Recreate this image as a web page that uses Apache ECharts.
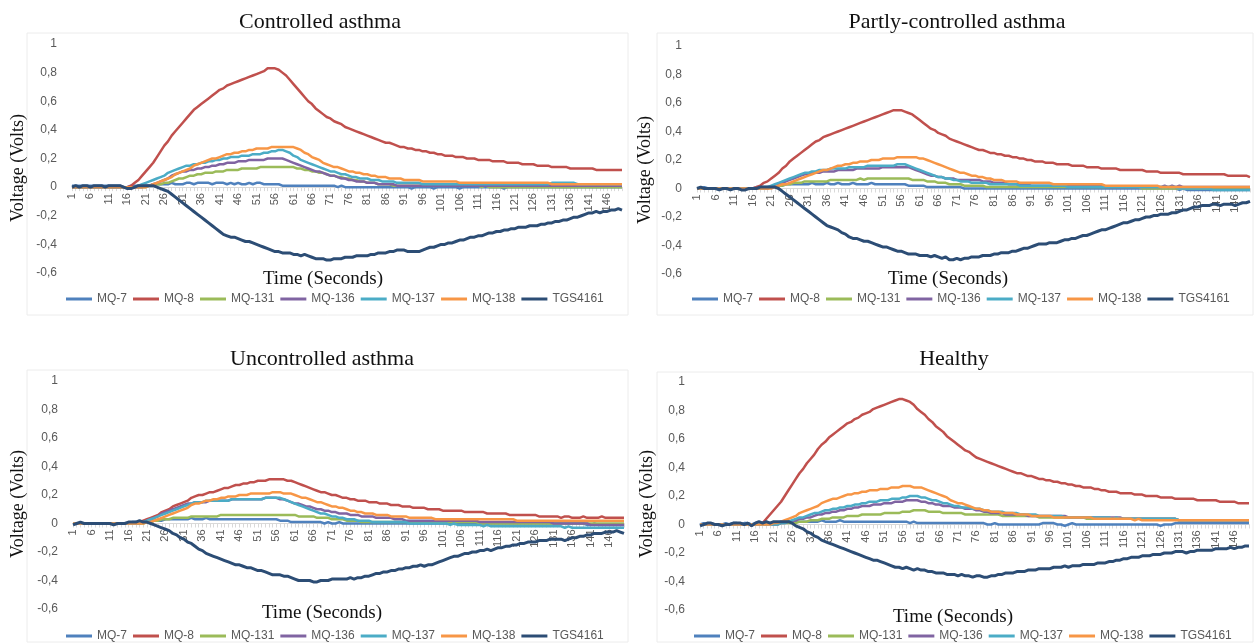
<!DOCTYPE html>
<html><head><meta charset="utf-8">
<script src="https://cdn.jsdelivr.net/npm/echarts@6/dist/echarts.min.js"></script>
<style>html,body{margin:0;padding:0;background:#fff}#chart{width:1255px;height:643px}</style>
</head><body><div id="chart"></div>
<script>
const seconds = [1,2,3,4,5,6,7,8,9,10,11,12,13,14,15,16,17,18,19,20,21,22,23,24,25,26,27,28,29,30,31,32,33,34,35,36,37,38,39,40,41,42,43,44,45,46,47,48,49,50,51,52,53,54,55,56,57,58,59,60,61,62,63,64,65,66,67,68,69,70,71,72,73,74,75,76,77,78,79,80,81,82,83,84,85,86,87,88,89,90,91,92,93,94,95,96,97,98,99,100,101,102,103,104,105,106,107,108,109,110,111,112,113,114,115,116,117,118,119,120,121,122,123,124,125,126,127,128,129,130,131,132,133,134,135,136,137,138,139,140,141,142,143,144,145,146,147,148,149,150];
const sensorNames = ['MQ-7','MQ-8','MQ-131','MQ-136','MQ-137','MQ-138','TGS4161'];
const panelTitles = ['Controlled asthma','Partly-controlled asthma','Uncontrolled asthma','Healthy'];

// ---- Controlled asthma ----
const controlledMQ7 = [0.01,0.01,0.01,0.01,0.01,0.01,0.01,0.01,0.01,0.01, 0.01,0.01,0.01,0.01,0,0,0.01,0.01,0.01,0.01, 0.01,0.01,0.02,0.02,0.02,0.02,0.02,0.03,0.02,0.02, 0.02,0.03,0.03,0.02,0.03,0.03,0.03,0.03,0.02,0.03, 0.03,0.03,0.02,0.03,0.02,0.03,0.02,0.02,0.03,0.02, 0.03,0.03,0.02,0.02,0.02,0.02,0.02,0.01,0.01,0.01, 0.01,0.01,0.01,0.01,0.01,0.01,0.01,0.01,0.01,0.01, 0.01,0.01,0,0.01,0,0,0,0,0,0, 0,0,0,0,0,0,0,0,0,0, 0,0,-0.01,0,0,0,0,0,-0.01,0, 0,0,0,0,0,-0.01,0,0,0,0, 0,0,0,0,0,0,0,-0.01,0,0, 0,0,0,0,0,0,0,0,0,0, 0,0,0,0,0,0,0,0,0,0, 0,0,0,0,0,0,0,0,0,0];
const controlledMQ8 = [0,0,0,0,0,0,0,0,0,0, 0,0,0,0,0,0,0.01,0.03,0.05,0.08, 0.11,0.14,0.17,0.21,0.25,0.29,0.32,0.36,0.39,0.42, 0.45,0.48,0.51,0.54,0.56,0.58,0.60,0.62,0.64,0.66, 0.68,0.69,0.71,0.72,0.73,0.74,0.75,0.76,0.77,0.78, 0.79,0.80,0.81,0.83,0.83,0.83,0.82,0.80,0.78,0.75, 0.72,0.69,0.66,0.63,0.60,0.58,0.55,0.53,0.51,0.49, 0.48,0.46,0.45,0.44,0.42,0.41,0.40,0.39,0.38,0.37, 0.36,0.35,0.34,0.33,0.32,0.31,0.31,0.30,0.29,0.28, 0.28,0.27,0.27,0.26,0.26,0.25,0.25,0.24,0.24,0.23, 0.23,0.22,0.22,0.22,0.21,0.21,0.21,0.20,0.20,0.20, 0.19,0.19,0.19,0.19,0.18,0.18,0.18,0.18,0.17,0.17, 0.17,0.17,0.16,0.16,0.16,0.16,0.15,0.15,0.15,0.15, 0.14,0.14,0.14,0.14,0.14,0.13,0.13,0.13,0.13,0.13, 0.13,0.13,0.12,0.12,0.12,0.12,0.12,0.12,0.12,0.12];
const controlledMQ131 = [0,0,0,0,0,0,0,0,0,0, 0,0,0,0,0,0,0,0,0,0, 0,0.01,0.01,0.02,0.02,0.03,0.03,0.04,0.05,0.06, 0.06,0.07,0.08,0.08,0.09,0.09,0.10,0.10,0.10,0.11, 0.11,0.11,0.12,0.12,0.12,0.12,0.13,0.13,0.13,0.13, 0.13,0.14,0.14,0.14,0.14,0.14,0.14,0.14,0.14,0.14, 0.14,0.13,0.13,0.12,0.12,0.11,0.11,0.10,0.10,0.09, 0.08,0.08,0.07,0.07,0.06,0.06,0.05,0.05,0.04,0.04, 0.03,0.03,0.03,0.02,0.02,0.02,0.02,0.01,0.01,0.01, 0.01,0.01,0.01,0.01,0.01,0.01,0.01,0.01,0.01,0.01, 0.01,0.01,0.01,0.01,0.01,0.01,0.01,0.01,0.01,0.01, 0.01,0,0.01,0,0,0,0,0,0,0, 0,0,0,0,0,0,0,0,0,0, 0,0,0,0,0,0,0,0,0,0, 0,0,0,0,0,0,0,0,0,0];
const controlledMQ136 = [0,0,0,0,0,0,0,0,0,0, 0,0,0,0,0,0,0,0,0,0, 0.01,0.01,0.02,0.03,0.04,0.05,0.06,0.08,0.09,0.10, 0.11,0.11,0.12,0.12,0.13,0.13,0.14,0.14,0.15,0.15, 0.16,0.16,0.17,0.17,0.17,0.18,0.18,0.18,0.19,0.19, 0.19,0.19,0.19,0.20,0.20,0.20,0.20,0.20,0.19,0.18, 0.17,0.16,0.15,0.14,0.13,0.12,0.11,0.11,0.10,0.09, 0.08,0.08,0.07,0.06,0.06,0.05,0.05,0.04,0.04,0.04, 0.03,0.03,0.03,0.02,0.02,0.02,0.02,0.02,0.01,0.01, 0.01,0.01,0.01,0.01,0.01,0.01,0.01,0.01,0.01,0.01, 0.01,0.01,0.01,0.01,0.01,0.01,0.01,0.01,0.01,0.01, 0.01,0.01,0.01,0.01,0.01,0.01,0.01,0.01,0.01,0.01, 0.01,0.01,0.01,0.01,0.01,0.01,0.01,0.01,0.01,0.01, 0.01,0.01,0.01,0.01,0.01,0.01,0.01,0.01,0.01,0.01, 0.01,0.01,0.01,0.01,0.01,0.01,0.01,0.01,0.01,0.01];
const controlledMQ137 = [0,0,0,0,0,0,0,0,0,0, 0,0,0,0,0,0,0,0,0.01,0.02, 0.03,0.04,0.05,0.06,0.07,0.08,0.10,0.11,0.12,0.13, 0.14,0.15,0.15,0.16,0.16,0.17,0.17,0.18,0.18,0.19, 0.19,0.20,0.20,0.21,0.21,0.21,0.22,0.22,0.22,0.23, 0.23,0.23,0.24,0.24,0.25,0.25,0.26,0.26,0.25,0.24, 0.22,0.21,0.19,0.18,0.17,0.16,0.15,0.14,0.13,0.12, 0.11,0.11,0.10,0.09,0.09,0.08,0.07,0.07,0.06,0.06, 0.06,0.05,0.05,0.05,0.04,0.04,0.04,0.04,0.03,0.03, 0.03,0.03,0.03,0.03,0.03,0.02,0.02,0.02,0.02,0.02, 0.02,0.02,0.02,0.02,0.02,0.02,0.02,0.02,0.02,0.02, 0.02,0.02,0.02,0.02,0.02,0.02,0.02,0.02,0.02,0.02, 0.02,0.02,0.02,0.02,0.02,0.02,0.02,0.02,0.02,0.02, 0.03,0.03,0.03,0.03,0.03,0.03,0.03,0.02,0.02,0.02, 0.02,0.02,0.02,0.02,0.02,0.02,0.02,0.02,0.02,0.02];
const controlledMQ138 = [0,0,0,0,0,0,0,0,0,0, 0,0,0,0,0,0,0,0,0,0, 0,0.01,0.02,0.03,0.04,0.05,0.06,0.07,0.09,0.10, 0.11,0.12,0.13,0.15,0.16,0.17,0.18,0.19,0.20,0.20, 0.21,0.22,0.23,0.23,0.24,0.24,0.25,0.25,0.26,0.26, 0.27,0.27,0.27,0.27,0.28,0.28,0.28,0.28,0.28,0.28, 0.28,0.27,0.26,0.24,0.23,0.21,0.20,0.19,0.17,0.16, 0.15,0.14,0.14,0.13,0.12,0.11,0.11,0.10,0.10,0.09, 0.09,0.08,0.08,0.07,0.07,0.07,0.06,0.06,0.06,0.06, 0.05,0.05,0.05,0.05,0.05,0.04,0.04,0.04,0.04,0.04, 0.04,0.04,0.04,0.04,0.04,0.03,0.03,0.03,0.03,0.03, 0.03,0.03,0.03,0.03,0.03,0.03,0.03,0.03,0.03,0.03, 0.03,0.03,0.03,0.03,0.03,0.03,0.03,0.03,0.03,0.03, 0.02,0.02,0.02,0.02,0.02,0.02,0.02,0.02,0.02,0.02, 0.02,0.02,0.02,0.02,0.02,0.02,0.02,0.02,0.02,0.02];
const controlledTGS4161 = [0,0.01,0,0.01,0.01,0,0.01,0.01,0.01,0, 0.01,0.01,0.01,0.01,0,-0.01,-0.01,0,0.01,0.01, 0.01,0.01,0.01,0,-0.01,-0.02,-0.03,-0.05,-0.07,-0.09, -0.11,-0.13,-0.15,-0.17,-0.19,-0.21,-0.23,-0.25,-0.27,-0.29, -0.31,-0.33,-0.34,-0.35,-0.35,-0.36,-0.37,-0.38,-0.38,-0.39, -0.40,-0.41,-0.42,-0.43,-0.44,-0.45,-0.45,-0.46,-0.46,-0.46, -0.47,-0.47,-0.48,-0.47,-0.48,-0.49,-0.50,-0.50,-0.50,-0.51, -0.51,-0.50,-0.50,-0.50,-0.49,-0.49,-0.49,-0.48,-0.48,-0.48, -0.48,-0.47,-0.47,-0.46,-0.46,-0.46,-0.45,-0.45,-0.44,-0.44, -0.44,-0.45,-0.45,-0.45,-0.45,-0.44,-0.43,-0.42,-0.42,-0.41, -0.40,-0.40,-0.39,-0.39,-0.38,-0.37,-0.37,-0.36,-0.35,-0.35, -0.34,-0.34,-0.33,-0.32,-0.32,-0.31,-0.31,-0.30,-0.30,-0.29, -0.29,-0.28,-0.28,-0.28,-0.27,-0.27,-0.27,-0.26,-0.26,-0.25, -0.25,-0.24,-0.24,-0.23,-0.23,-0.22,-0.21,-0.21,-0.20,-0.19, -0.18,-0.18,-0.17,-0.18,-0.17,-0.17,-0.16,-0.16,-0.15,-0.16];

// ---- Partly-controlled asthma ----
const partlyMQ7 = [0,0,0.01,0,0,0,0,0,0,0, 0,0,0,0,0,0,0.01,0.01,0.01,0.01, 0.01,0.02,0.02,0.02,0.03,0.03,0.03,0.03,0.03,0.03, 0.03,0.04,0.03,0.03,0.03,0.04,0.03,0.03,0.04,0.03, 0.03,0.03,0.04,0.03,0.03,0.03,0.03,0.04,0.03,0.03, 0.03,0.03,0.03,0.03,0.03,0.03,0.03,0.02,0.02,0.02, 0.02,0.02,0.01,0.01,0.01,0.01,0.01,0.01,0.01,0.01, 0.01,0.01,0,0,0,0,0,0,0,0, 0,0,0,0,0,0,0,0,0,0, 0,0,0,0,0,0,0,0,0,0, 0,0,0,0,0,0,0,0,0,0, 0,0,0,0,0,0,0,0,0,0, 0,0,0,0,0,0,0,0,0,0, -0.01,0,-0.01,-0.01,-0.01,-0.01,-0.01,-0.01,-0.01,-0.01, -0.01,-0.01,-0.01,-0.01,-0.01,-0.01,-0.01,-0.01,-0.01,-0.01];
const partlyMQ8 = [0,0,0,0,0,0,0,0,0,0, 0,0,0,0,0,0,0.01,0.02,0.04,0.05, 0.07,0.09,0.11,0.14,0.16,0.19,0.21,0.23,0.25,0.27, 0.29,0.31,0.33,0.34,0.36,0.37,0.38,0.39,0.40,0.41, 0.42,0.43,0.44,0.45,0.46,0.47,0.48,0.49,0.50,0.51, 0.52,0.53,0.54,0.55,0.55,0.55,0.54,0.53,0.52,0.50, 0.48,0.46,0.44,0.42,0.41,0.39,0.38,0.37,0.35,0.34, 0.33,0.32,0.31,0.30,0.29,0.28,0.27,0.27,0.26,0.25, 0.25,0.24,0.24,0.23,0.23,0.22,0.22,0.21,0.21,0.20, 0.20,0.19,0.19,0.19,0.18,0.18,0.18,0.17,0.17,0.17, 0.17,0.16,0.16,0.16,0.16,0.15,0.15,0.15,0.15,0.14, 0.14,0.14,0.14,0.14,0.13,0.13,0.13,0.13,0.13,0.13, 0.13,0.12,0.12,0.12,0.12,0.11,0.11,0.11,0.11,0.11, 0.11,0.10,0.10,0.10,0.10,0.10,0.10,0.10,0.10,0.10, 0.10,0.10,0.10,0.09,0.09,0.09,0.09,0.09,0.09,0.08];
const partlyMQ131 = [0,0,0,0,0,0,0,0,0,0, 0,0,0,0,0,0,0,0,0,0, 0.01,0.01,0.02,0.02,0.03,0.03,0.04,0.04,0.04,0.05, 0.05,0.05,0.05,0.05,0.05,0.05,0.06,0.06,0.06,0.06, 0.06,0.06,0.06,0.06,0.07,0.06,0.07,0.07,0.07,0.07, 0.07,0.07,0.07,0.07,0.07,0.07,0.07,0.07,0.06,0.06, 0.06,0.06,0.05,0.05,0.05,0.04,0.04,0.04,0.03,0.03, 0.03,0.03,0.02,0.02,0.02,0.02,0.02,0.02,0.01,0.01, 0.01,0.01,0.01,0.01,0.01,0.01,0.01,0.01,0.01,0.01, 0.01,0.01,0.01,0.01,0.01,0.01,0.01,0.01,0.01,0.01, 0.01,0.01,0.01,0.01,0.01,0.01,0.01,0.01,0.01,0.01, 0.01,0.01,0.01,0.01,0.01,0.01,0.01,0.01,0.01,0.01, 0,0,0,0,0,0,0,0,0,0, 0,0,0,0,0,0,0,0,0,0, 0,0,0,0,0,0,0,0,0,0];
const partlyMQ136 = [0,0,0,0,0,0,0,0,0,0, 0,0,0,0,0,0,0,0,0,0, 0.01,0.02,0.03,0.04,0.05,0.06,0.07,0.08,0.09,0.10, 0.10,0.11,0.11,0.11,0.12,0.12,0.12,0.12,0.13,0.13, 0.13,0.13,0.13,0.14,0.14,0.14,0.14,0.14,0.14,0.14, 0.15,0.15,0.15,0.15,0.15,0.15,0.15,0.15,0.14,0.13, 0.12,0.11,0.10,0.09,0.09,0.08,0.08,0.07,0.07,0.07, 0.06,0.06,0.06,0.06,0.06,0.06,0.06,0.05,0.05,0.05, 0.04,0.04,0.04,0.04,0.03,0.03,0.03,0.03,0.03,0.03, 0.02,0.02,0.02,0.02,0.02,0.02,0.02,0.02,0.02,0.02, 0.02,0.02,0.02,0.02,0.02,0.02,0.02,0.02,0.02,0.02, 0.01,0.01,0.01,0.01,0.01,0.01,0.01,0.01,0.01,0.01, 0.01,0.01,0.01,0.01,0.01,0.01,0.02,0.01,0.02,0.01, 0.02,0.01,0.01,0.01,0.01,0.01,0.01,0.01,0.01,0.01, 0.01,0.01,0.01,0.01,0.01,0.01,0.01,0.01,0.01,0.01];
const partlyMQ137 = [0,0,0,0,0,0,0,0,0,0, 0,0,0,0,0,0,0,0,0,0.01, 0.02,0.03,0.04,0.05,0.06,0.07,0.08,0.09,0.10,0.11, 0.11,0.12,0.12,0.13,0.13,0.13,0.14,0.14,0.14,0.14, 0.14,0.15,0.15,0.15,0.15,0.15,0.16,0.16,0.16,0.16, 0.16,0.16,0.16,0.16,0.17,0.17,0.17,0.16,0.15,0.14, 0.13,0.12,0.11,0.10,0.09,0.08,0.08,0.07,0.07,0.06, 0.06,0.05,0.05,0.05,0.04,0.04,0.04,0.04,0.04,0.03, 0.03,0.03,0.03,0.03,0.03,0.03,0.03,0.02,0.02,0.02, 0.02,0.02,0.02,0.02,0.02,0.02,0.02,0.02,0.02,0.02, 0.01,0.01,0.01,0.01,0.01,0.01,0.01,0.01,0.01,0.01, 0.01,0.01,0.01,0.01,0.01,0.01,0.01,0.01,0.01,0.01, 0.01,0.01,0.01,0.01,0.01,0.01,0.01,0.01,0.01,0.01, 0,0,0,0,0,0,0,0,0,-0.01, -0.01,-0.01,-0.01,-0.01,-0.01,-0.01,-0.01,-0.01,-0.01,-0.01];
const partlyMQ138 = [0,0,0,0,0,0,0,0,0,0, 0,0,0,0,0,0,0,0,0,0, 0,0.01,0.02,0.03,0.03,0.04,0.05,0.06,0.07,0.08, 0.09,0.10,0.11,0.12,0.13,0.13,0.14,0.15,0.16,0.16, 0.17,0.17,0.18,0.18,0.19,0.19,0.19,0.20,0.20,0.20, 0.21,0.21,0.21,0.21,0.22,0.22,0.22,0.22,0.22,0.22, 0.21,0.21,0.20,0.19,0.18,0.17,0.16,0.15,0.14,0.13, 0.12,0.11,0.11,0.10,0.09,0.09,0.08,0.08,0.07,0.07, 0.06,0.06,0.06,0.05,0.05,0.05,0.05,0.04,0.04,0.04, 0.04,0.04,0.04,0.04,0.04,0.04,0.03,0.03,0.03,0.03, 0.03,0.03,0.03,0.03,0.03,0.03,0.03,0.03,0.03,0.03, 0.02,0.02,0.02,0.02,0.02,0.02,0.02,0.02,0.02,0.02, 0.02,0.02,0.02,0.02,0.02,0.01,0.01,0.01,0.01,0.01, 0.01,0.01,0.01,0.01,0.01,0.01,0.01,0.01,0.01,0.01, 0.01,0.01,0.01,0.01,0.01,0.01,0.01,0.01,0.01,0.01];
const partlyTGS4161 = [0,0.01,0,0,0,0,-0.01,0,0,-0.01, 0,0,-0.01,-0.01,0,0,0,0.01,0.01,0.01, 0.01,0.01,0,-0.02,-0.04,-0.06,-0.08,-0.10,-0.12,-0.14, -0.16,-0.18,-0.20,-0.22,-0.24,-0.26,-0.27,-0.28,-0.29,-0.31, -0.32,-0.34,-0.35,-0.35,-0.36,-0.37,-0.37,-0.38,-0.39,-0.40, -0.41,-0.41,-0.42,-0.43,-0.44,-0.44,-0.45,-0.46,-0.46,-0.46, -0.47,-0.47,-0.47,-0.48,-0.47,-0.48,-0.49,-0.48,-0.50,-0.50, -0.49,-0.50,-0.49,-0.49,-0.48,-0.48,-0.48,-0.47,-0.47,-0.47, -0.46,-0.46,-0.45,-0.45,-0.45,-0.44,-0.44,-0.43,-0.42,-0.42, -0.41,-0.40,-0.39,-0.39,-0.39,-0.38,-0.38,-0.38,-0.37,-0.36, -0.36,-0.35,-0.35,-0.34,-0.33,-0.33,-0.32,-0.31,-0.30,-0.29, -0.29,-0.28,-0.27,-0.26,-0.25,-0.24,-0.24,-0.23,-0.22,-0.22, -0.21,-0.20,-0.20,-0.19,-0.19,-0.18,-0.18,-0.18,-0.17,-0.17, -0.16,-0.15,-0.15,-0.14,-0.13,-0.13,-0.12,-0.12,-0.12,-0.11, -0.11,-0.12,-0.11,-0.11,-0.11,-0.12,-0.11,-0.10,-0.10,-0.09];

// ---- Uncontrolled asthma ----
const uncontrolledMQ7 = [0,0,0,0,0,0,0,0,0,0, 0,0,0,0,0,0,0.01,0.01,0.01,0.01, 0.01,0.01,0.02,0.02,0.02,0.03,0.03,0.03,0.03,0.03, 0.03,0.03,0.04,0.03,0.03,0.03,0.04,0.03,0.03,0.03, 0.03,0.03,0.03,0.03,0.03,0.03,0.03,0.03,0.03,0.03, 0.03,0.03,0.03,0.03,0.03,0.03,0.02,0.02,0.02,0.01, 0.01,0.01,0.01,0.01,0.01,0.01,0.01,0.01,0,0.01, 0,0,0.01,0,0,0,0,0,0,0, 0,0,0,0,0,0,0,0,0,0, 0,0,0,0,0,0,0,0,0,0, 0,0,0,0,0,0,0,0,0,0, 0,0,0,0,0,0,0,0,0,0, 0,0,0,0,0,0,0,0,0,0, 0,0,0,0,0,0,0,0,0,-0.01, -0.01,0,-0.01,-0.01,-0.01,-0.01,-0.01,-0.01,-0.01,-0.01];
const uncontrolledMQ8 = [0,0,0,0,0,0,0,0,0,0, 0,0,0,0,0,0,0,0,0.01,0.02, 0.03,0.04,0.05,0.06,0.08,0.09,0.10,0.12,0.13,0.14, 0.15,0.16,0.18,0.19,0.20,0.20,0.21,0.22,0.22,0.23, 0.24,0.25,0.25,0.26,0.27,0.27,0.28,0.28,0.29,0.29, 0.30,0.30,0.30,0.31,0.31,0.31,0.31,0.31,0.30,0.30, 0.29,0.28,0.27,0.26,0.25,0.24,0.23,0.22,0.22,0.21, 0.20,0.20,0.19,0.18,0.18,0.17,0.17,0.16,0.16,0.16, 0.15,0.15,0.15,0.14,0.14,0.14,0.13,0.13,0.13,0.12, 0.12,0.12,0.11,0.11,0.11,0.11,0.10,0.10,0.10,0.10, 0.09,0.09,0.09,0.09,0.09,0.09,0.08,0.08,0.08,0.08, 0.08,0.08,0.07,0.07,0.07,0.07,0.07,0.07,0.06,0.06, 0.06,0.06,0.06,0.06,0.06,0.06,0.05,0.05,0.05,0.05, 0.05,0.05,0.04,0.05,0.05,0.04,0.04,0.04,0.05,0.04, 0.04,0.04,0.04,0.05,0.04,0.04,0.04,0.04,0.04,0.04];
const uncontrolledMQ131 = [0,0,0,0,0,0,0,0,0,0, 0,0,0,0,0,0,0,0,0,0, 0.01,0.01,0.02,0.02,0.03,0.03,0.03,0.04,0.04,0.04, 0.04,0.04,0.05,0.05,0.05,0.05,0.05,0.05,0.05,0.05, 0.06,0.06,0.06,0.06,0.06,0.06,0.06,0.06,0.06,0.06, 0.06,0.06,0.06,0.06,0.06,0.06,0.06,0.06,0.06,0.06, 0.06,0.05,0.05,0.05,0.05,0.05,0.04,0.04,0.04,0.04, 0.03,0.03,0.03,0.03,0.02,0.02,0.02,0.02,0.01,0.01, 0.01,0.01,0.01,0.01,0.01,0.01,0.01,0.01,0.01,0.01, 0.01,0.01,0.01,0.01,0.01,0.01,0.01,0.01,0.01,0.01, 0.01,0.01,0.01,0.01,0.01,0.01,0.01,0.01,0.01,0.01, 0,0,0,0,0,0,0,0,0,0, 0,0,0,0,0,0,0,0,0,0, 0,0,0,0,0,0,0,0,0,0, 0,0,0,0,0,0,0,0,0,0];
const uncontrolledMQ136 = [0,0,0,0,0,0,0,0,0,0, 0,0,0,0,0,0,0,0,0,0.01, 0.02,0.03,0.04,0.05,0.07,0.08,0.09,0.10,0.11,0.12, 0.13,0.14,0.14,0.15,0.15,0.15,0.15,0.16,0.16,0.16, 0.16,0.16,0.16,0.17,0.17,0.17,0.17,0.17,0.17,0.17, 0.17,0.17,0.18,0.18,0.18,0.18,0.17,0.17,0.16,0.15, 0.14,0.14,0.13,0.12,0.12,0.11,0.10,0.10,0.09,0.09, 0.08,0.08,0.07,0.07,0.07,0.06,0.06,0.06,0.05,0.05, 0.05,0.05,0.04,0.04,0.04,0.04,0.04,0.03,0.03,0.03, 0.02,0.02,0.02,0.02,0.02,0.02,0.02,0.02,0.02,0.02, 0.02,0.02,0.02,0.02,0.02,0.02,0.02,0.02,0.02,0.02, 0.01,0.01,0.01,0.01,0.01,0.01,0.01,0.01,0.01,0.01, 0.01,0.01,0.01,0.01,0.01,0.01,0.01,0.01,0.01,0.01, 0,0,0,0,0,0,0,0,0,0, -0.01,-0.01,-0.01,-0.01,-0.01,-0.01,-0.01,-0.01,-0.01,-0.01];
const uncontrolledMQ137 = [0,0,0,0,0,0,0,0,0,0, 0,0,0,0,0,0,0,0,0,0.01, 0.02,0.03,0.04,0.05,0.06,0.07,0.08,0.09,0.10,0.11, 0.12,0.13,0.14,0.15,0.15,0.15,0.16,0.16,0.16,0.16, 0.16,0.16,0.16,0.17,0.17,0.17,0.17,0.17,0.17,0.17, 0.17,0.17,0.18,0.18,0.18,0.18,0.18,0.17,0.16,0.15, 0.14,0.13,0.12,0.11,0.10,0.09,0.08,0.07,0.07,0.06, 0.05,0.05,0.04,0.04,0.03,0.03,0.03,0.02,0.02,0.02, 0.02,0.01,0.01,0.01,0.01,0.01,0.01,0.01,0.01,0.01, 0.01,0,0,0,0,0,0,0,0,0, 0,0,-0.01,0,-0.01,-0.01,-0.01,-0.01,-0.01,-0.01, -0.01,-0.02,-0.01,-0.02,-0.02,-0.02,-0.02,-0.02,-0.02,-0.02, -0.02,-0.02,-0.02,-0.02,-0.02,-0.02,-0.02,-0.02,-0.02,-0.02, -0.02,-0.02,-0.02,-0.03,-0.02,-0.03,-0.03,-0.03,-0.03,-0.03, -0.03,-0.03,-0.03,-0.03,-0.03,-0.03,-0.03,-0.03,-0.03,-0.03];
const uncontrolledMQ138 = [0,0,0,0,0,0,0,0,0,0, 0,0,0,0,0,0,0,0,0,0, 0.01,0.01,0.02,0.03,0.04,0.05,0.06,0.07,0.08,0.09, 0.10,0.11,0.13,0.14,0.14,0.15,0.16,0.16,0.17,0.17, 0.18,0.18,0.19,0.19,0.19,0.20,0.20,0.20,0.21,0.21, 0.21,0.21,0.21,0.21,0.22,0.22,0.22,0.21,0.21,0.21, 0.20,0.19,0.18,0.18,0.17,0.16,0.15,0.15,0.14,0.13, 0.12,0.12,0.11,0.11,0.10,0.09,0.09,0.08,0.08,0.07, 0.07,0.07,0.06,0.06,0.06,0.06,0.05,0.05,0.05,0.05, 0.05,0.04,0.04,0.04,0.04,0.04,0.04,0.04,0.03,0.03, 0.03,0.03,0.03,0.03,0.03,0.03,0.03,0.03,0.03,0.03, 0.03,0.03,0.03,0.03,0.03,0.03,0.03,0.03,0.03,0.03, 0.02,0.02,0.02,0.02,0.02,0.02,0.02,0.02,0.02,0.02, 0.02,0.02,0.02,0.02,0.02,0.02,0.02,0.02,0.02,0.02, 0.02,0.02,0.02,0.02,0.02,0.02,0.02,0.02,0.02,0.02];
const uncontrolledTGS4161 = [-0.01,0,0.01,0,0,0,0,0,0,0, 0,-0.01,0,0,0,0.01,0.01,0.01,0.02,0.01, 0.01,0,-0.01,-0.02,-0.03,-0.04,-0.05,-0.07,-0.08,-0.10, -0.11,-0.13,-0.14,-0.16,-0.18,-0.19,-0.21,-0.22,-0.23,-0.24, -0.25,-0.26,-0.27,-0.28,-0.29,-0.29,-0.30,-0.31,-0.31,-0.32, -0.33,-0.33,-0.34,-0.35,-0.36,-0.36,-0.36,-0.37,-0.37,-0.38, -0.39,-0.40,-0.40,-0.40,-0.40,-0.41,-0.41,-0.40,-0.40,-0.40, -0.39,-0.39,-0.39,-0.39,-0.39,-0.38,-0.39,-0.38,-0.38,-0.37, -0.37,-0.36,-0.35,-0.35,-0.34,-0.34,-0.33,-0.33,-0.32,-0.32, -0.31,-0.31,-0.30,-0.30,-0.29,-0.30,-0.29,-0.29,-0.28,-0.27, -0.26,-0.25,-0.24,-0.23,-0.23,-0.22,-0.21,-0.21,-0.20,-0.20, -0.19,-0.19,-0.18,-0.19,-0.18,-0.17,-0.17,-0.16,-0.16,-0.15, -0.15,-0.14,-0.14,-0.13,-0.13,-0.13,-0.12,-0.12,-0.12,-0.11, -0.11,-0.11,-0.11,-0.12,-0.11,-0.10,-0.10,-0.09,-0.09,-0.08, -0.08,-0.07,-0.07,-0.07,-0.06,-0.06,-0.06,-0.05,-0.06,-0.07];

// ---- Healthy ----
const healthyMQ7 = [0,0.01,0,0.01,0,0,0,0.01,0,0.01, 0.01,0,0.01,0.01,0,0.01,0.01,0.01,0.01,0.01, 0.01,0.01,0.02,0.02,0.02,0.02,0.02,0.02,0.02,0.02, 0.02,0.02,0.02,0.03,0.02,0.02,0.02,0.02,0.03,0.02, 0.02,0.02,0.02,0.02,0.02,0.02,0.02,0.02,0.02,0.02, 0.02,0.02,0.02,0.02,0.02,0.02,0.02,0.01,0.02,0.01, 0.01,0.01,0.01,0.01,0.01,0.01,0.01,0.01,0.01,0.01, 0.01,0.01,0.01,0.01,0.01,0.01,0.01,0.01,0,0, 0.01,0,0,0,0,0,0,0,0,0, 0,0,0,0.01,0.01,0.01,0.01,0,0,-0.01, 0,0.01,0,0,0,0,0,0,0,0, 0,0,0,0,0,0,0,0,0,0, 0,0,0,0,0,-0.01,0,0,0,0.01, 0.01,0.01,0.01,0.01,0.01,0.01,0.01,0.01,0.01,0.01, 0.01,0.01,0.01,0.01,0.01,0.01,0.01,0.01,0.01,0.01];
const healthyMQ8 = [0,0,0,0,0,0,0,0,0,0, 0,0,0,0,0,0,0,0.01,0.04,0.07, 0.10,0.13,0.16,0.20,0.24,0.28,0.32,0.36,0.39,0.43, 0.46,0.49,0.53,0.56,0.58,0.61,0.63,0.65,0.67,0.69, 0.71,0.72,0.74,0.75,0.77,0.78,0.79,0.81,0.82,0.83, 0.84,0.85,0.86,0.87,0.88,0.88,0.87,0.86,0.84,0.81, 0.79,0.77,0.74,0.72,0.69,0.67,0.65,0.62,0.60,0.58, 0.56,0.54,0.52,0.51,0.49,0.47,0.46,0.45,0.44,0.43, 0.42,0.41,0.40,0.39,0.38,0.37,0.36,0.36,0.35,0.34, 0.34,0.33,0.32,0.32,0.31,0.31,0.30,0.30,0.29,0.29, 0.28,0.28,0.27,0.27,0.26,0.26,0.26,0.25,0.25,0.24, 0.24,0.23,0.23,0.23,0.22,0.22,0.22,0.22,0.21,0.21, 0.21,0.20,0.20,0.20,0.20,0.19,0.19,0.19,0.19,0.18, 0.18,0.18,0.18,0.18,0.18,0.17,0.17,0.17,0.17,0.17, 0.17,0.16,0.16,0.16,0.16,0.16,0.15,0.15,0.15,0.15];
const healthyMQ131 = [0,0,0,0,0,0,0,0,0,0, 0,0,0,0,0,0,0,0,0,0, 0,0,0.01,0.01,0.01,0.01,0.01,0.02,0.02,0.02, 0.03,0.03,0.03,0.04,0.04,0.04,0.05,0.05,0.05,0.05, 0.06,0.06,0.06,0.06,0.07,0.07,0.07,0.07,0.07,0.07, 0.08,0.08,0.08,0.08,0.08,0.09,0.09,0.09,0.10,0.10, 0.10,0.10,0.09,0.09,0.09,0.09,0.08,0.08,0.08,0.08, 0.08,0.08,0.07,0.07,0.07,0.07,0.07,0.07,0.07,0.07, 0.07,0.07,0.06,0.06,0.06,0.06,0.06,0.06,0.06,0.06, 0.06,0.06,0.05,0.05,0.05,0.05,0.05,0.05,0.05,0.05, 0.05,0.05,0.05,0.05,0.05,0.04,0.04,0.04,0.04,0.04, 0.04,0.04,0.04,0.04,0.04,0.04,0.04,0.04,0.04,0.04, 0.04,0.04,0.04,0.04,0.04,0.04,0.04,0.04,0.04,0.04, 0.03,0.03,0.03,0.03,0.03,0.03,0.03,0.03,0.03,0.03, 0.03,0.03,0.03,0.03,0.03,0.03,0.03,0.03,0.03,0.03];
const healthyMQ136 = [0,0,0,0,0,0,0,0,0,0, 0,0,0,0,0,0,0,0,0,0, 0,0,0.01,0.01,0.02,0.02,0.03,0.04,0.04,0.05, 0.05,0.06,0.07,0.07,0.08,0.08,0.09,0.09,0.10,0.10, 0.11,0.11,0.12,0.12,0.13,0.13,0.13,0.14,0.14,0.14, 0.15,0.15,0.15,0.16,0.16,0.16,0.17,0.17,0.17,0.17, 0.16,0.16,0.15,0.15,0.14,0.14,0.13,0.13,0.13,0.12, 0.12,0.12,0.11,0.11,0.11,0.10,0.10,0.09,0.09,0.08, 0.08,0.08,0.08,0.07,0.07,0.07,0.07,0.07,0.07,0.06, 0.06,0.06,0.06,0.06,0.06,0.06,0.06,0.06,0.06,0.06, 0.05,0.05,0.05,0.05,0.05,0.05,0.05,0.05,0.05,0.05, 0.05,0.05,0.05,0.05,0.05,0.04,0.04,0.04,0.04,0.04, 0.04,0.04,0.04,0.04,0.04,0.04,0.04,0.04,0.04,0.04, 0.03,0.03,0.03,0.03,0.03,0.03,0.03,0.03,0.03,0.03, 0.03,0.03,0.03,0.03,0.03,0.03,0.03,0.03,0.03,0.03];
const healthyMQ137 = [0,0,0,0,0,0,0,0,0,0, 0,0,0,0,0,0,0,0,0,0, 0,0,0.01,0.01,0.02,0.03,0.04,0.05,0.05,0.06, 0.07,0.08,0.08,0.09,0.10,0.10,0.11,0.11,0.12,0.12, 0.13,0.13,0.14,0.14,0.15,0.15,0.16,0.16,0.16,0.17, 0.17,0.17,0.18,0.18,0.18,0.19,0.19,0.20,0.20,0.20, 0.19,0.19,0.18,0.17,0.17,0.16,0.15,0.15,0.14,0.13, 0.13,0.12,0.12,0.12,0.11,0.11,0.11,0.10,0.10,0.09, 0.09,0.09,0.09,0.08,0.08,0.08,0.08,0.07,0.07,0.07, 0.07,0.07,0.06,0.06,0.06,0.06,0.06,0.06,0.06,0.05, 0.05,0.05,0.05,0.05,0.05,0.05,0.05,0.05,0.05,0.05, 0.05,0.05,0.04,0.05,0.04,0.04,0.04,0.04,0.04,0.04, 0.04,0.04,0.04,0.04,0.04,0.04,0.04,0.04,0.04,0.04, 0.03,0.03,0.03,0.03,0.03,0.03,0.03,0.03,0.03,0.03, 0.03,0.03,0.03,0.03,0.03,0.03,0.03,0.03,0.03,0.03];
const healthyMQ138 = [0,0,0,0,0,0,0,0,0,0, 0,0,0,0,0,0,0,0,0,0, 0.01,0.01,0.02,0.03,0.04,0.05,0.06,0.08,0.09,0.10, 0.11,0.12,0.13,0.15,0.16,0.17,0.18,0.18,0.19,0.20, 0.21,0.21,0.22,0.22,0.23,0.23,0.24,0.24,0.24,0.25, 0.25,0.25,0.26,0.26,0.26,0.27,0.27,0.27,0.26,0.26, 0.26,0.25,0.24,0.23,0.22,0.21,0.20,0.19,0.17,0.16, 0.15,0.15,0.14,0.13,0.12,0.11,0.11,0.10,0.10,0.09, 0.09,0.09,0.08,0.08,0.08,0.08,0.07,0.07,0.07,0.07, 0.06,0.06,0.06,0.06,0.06,0.06,0.05,0.05,0.05,0.05, 0.05,0.05,0.05,0.05,0.05,0.05,0.05,0.04,0.04,0.04, 0.04,0.04,0.04,0.04,0.04,0.04,0.04,0.04,0.03,0.04, 0.03,0.03,0.03,0.03,0.03,0.03,0.03,0.03,0.03,0.03, 0.03,0.03,0.03,0.03,0.03,0.03,0.03,0.03,0.03,0.03, 0.03,0.03,0.03,0.03,0.03,0.03,0.03,0.03,0.03,0.03];
const healthyTGS4161 = [-0.01,0,0.01,0.01,0,0,-0.01,0,0,0.01, 0.01,0.01,0,0.01,-0.01,0.01,0.02,0.01,0.02,0.01, 0.02,0.02,0.02,0.02,0.02,0.01,-0.01,-0.02,-0.03,-0.05, -0.06,-0.08,-0.09,-0.11,-0.12,-0.13,-0.14,-0.15,-0.16,-0.17, -0.18,-0.19,-0.20,-0.21,-0.22,-0.23,-0.24,-0.25,-0.25,-0.26, -0.27,-0.28,-0.29,-0.30,-0.30,-0.31,-0.30,-0.31,-0.32,-0.31, -0.32,-0.32,-0.33,-0.33,-0.34,-0.34,-0.34,-0.35,-0.35,-0.35, -0.36,-0.35,-0.36,-0.36,-0.37,-0.36,-0.36,-0.37,-0.37,-0.36, -0.36,-0.35,-0.35,-0.34,-0.34,-0.34,-0.33,-0.33,-0.33,-0.32, -0.32,-0.32,-0.31,-0.31,-0.31,-0.31,-0.30,-0.30,-0.30,-0.29, -0.30,-0.29,-0.29,-0.29,-0.28,-0.28,-0.28,-0.28,-0.27,-0.27, -0.27,-0.26,-0.26,-0.25,-0.25,-0.24,-0.24,-0.23,-0.23,-0.23, -0.22,-0.22,-0.22,-0.21,-0.21,-0.21,-0.20,-0.20,-0.20,-0.19, -0.19,-0.19,-0.20,-0.19,-0.19,-0.18,-0.18,-0.18,-0.18,-0.18, -0.17,-0.17,-0.17,-0.17,-0.16,-0.17,-0.16,-0.16,-0.15,-0.15];

const panelData = [
  [controlledMQ7, controlledMQ8, controlledMQ131, controlledMQ136, controlledMQ137, controlledMQ138, controlledTGS4161],
  [partlyMQ7, partlyMQ8, partlyMQ131, partlyMQ136, partlyMQ137, partlyMQ138, partlyTGS4161],
  [uncontrolledMQ7, uncontrolledMQ8, uncontrolledMQ131, uncontrolledMQ136, uncontrolledMQ137, uncontrolledMQ138, uncontrolledTGS4161],
  [healthyMQ7, healthyMQ8, healthyMQ131, healthyMQ136, healthyMQ137, healthyMQ138, healthyTGS4161]
];

const colors = ['#4F81BD','#C0504D','#9BBB59','#8064A2','#4BACC6','#F79646','#2C4D75'];
const serif = '"Liberation Serif","Times New Roman",serif';
const sans = '"Liberation Sans",Arial,sans-serif';
const yMin = -0.6, yMax = 1;

// layout of each panel (positions only)
const layout = [
  {gl:72, gt:44, gw:550, gh:229, tx:320, tt:11,  lx:66,  lt:293, xtx:323, xty:279, ytx:18,  yty:168, box:[27,33,601,282]},
  {gl:697,gt:46, gw:553, gh:228, tx:957, tt:11,  lx:692, lt:293, xtx:948, xty:279, ytx:645, yty:170, box:[657,33,596,282]},
  {gl:73, gt:381,gw:551, gh:228, tx:322, tt:348, lx:66,  lt:630, xtx:322, xty:613, ytx:18,  yty:504, box:[27,370,601,272]},
  {gl:700,gt:382,gw:549, gh:228, tx:954, tt:348, lx:694, lt:630, xtx:953, xty:617, ytx:647, yty:504, box:[657,372,596,270]}
];

function fmt(v){ var r = Math.round(v*10)/10; return String(r).replace('.', ','); }

const option = {
  animation: false,
  backgroundColor: '#fff',
  title: [], legend: [], grid: [], xAxis: [], yAxis: [], series: [], graphic: []
};

layout.forEach(function(L, p){
  // x axis sits on the zero line: shift it up from the grid bottom by the zero position
  const zeroShift = -L.gh * (0 - yMin) / (yMax - yMin);
  option.title.push({text: panelTitles[p], left: L.tx, top: L.tt, textAlign: 'center', padding: 0,
    textStyle: {fontFamily: serif, fontSize: 22, fontWeight: 'normal', color: '#111'}});
  option.grid.push({left: L.gl, top: L.gt, width: L.gw, height: L.gh, containLabel: false});
  option.xAxis.push({type: 'category', gridIndex: p, data: seconds, boundaryGap: false,
    position: 'bottom', offset: zeroShift,
    axisLine: {onZero: false, lineStyle: {color: '#d9d9d9', width: 1}},
    axisTick: {show: true, interval: 0, length: 4, lineStyle: {color: '#d9d9d9'}},
    axisLabel: {interval: 4, rotate: 90, fontSize: 11, color: '#595959', fontFamily: sans, margin: 6},
    splitLine: {show: false}});
  option.yAxis.push({type: 'value', gridIndex: p, min: yMin, max: yMax, interval: 0.2,
    axisLine: {show: false}, axisTick: {show: false}, splitLine: {show: false},
    axisLabel: {formatter: fmt, fontSize: 12, color: '#595959', fontFamily: sans, margin: 15}});
  option.legend.push({data: sensorNames, left: L.lx, top: L.lt, width: 590, padding: 0,
    icon: 'rect', itemWidth: 26, itemHeight: 3, itemGap: 6,
    selectedMode: false, textStyle: {fontSize: 12, color: '#595959', fontFamily: sans}});
  sensorNames.forEach(function(name, s){
    option.series.push({name: name, type: 'line', xAxisIndex: p, yAxisIndex: p,
      data: panelData[p][s], symbol: 'none', smooth: false,
      lineStyle: {width: s === 6 ? 3 : 2.5, color: colors[s]}, itemStyle: {color: colors[s]}});
  });
  option.graphic.push({type: 'rect', silent: true, z: -1,
    shape: {x: L.box[0], y: L.box[1], width: L.box[2], height: L.box[3]},
    style: {fill: 'none', stroke: '#ececec', lineWidth: 1}});
  option.graphic.push({type: 'text', x: L.xtx, y: L.xty, silent: true,
    style: {text: 'Time (Seconds)', font: '19px ' + serif, fill: '#111', align: 'center', verticalAlign: 'middle'}});
  option.graphic.push({type: 'text', x: L.ytx, y: L.yty, rotation: Math.PI / 2, silent: true,
    style: {text: 'Voltage (Volts)', font: '18px ' + serif, fill: '#111', align: 'center', verticalAlign: 'middle'}});
});

const chart = echarts.init(document.getElementById('chart'), null, {renderer: 'canvas'});
chart.setOption(option);
</script>
</body></html>
